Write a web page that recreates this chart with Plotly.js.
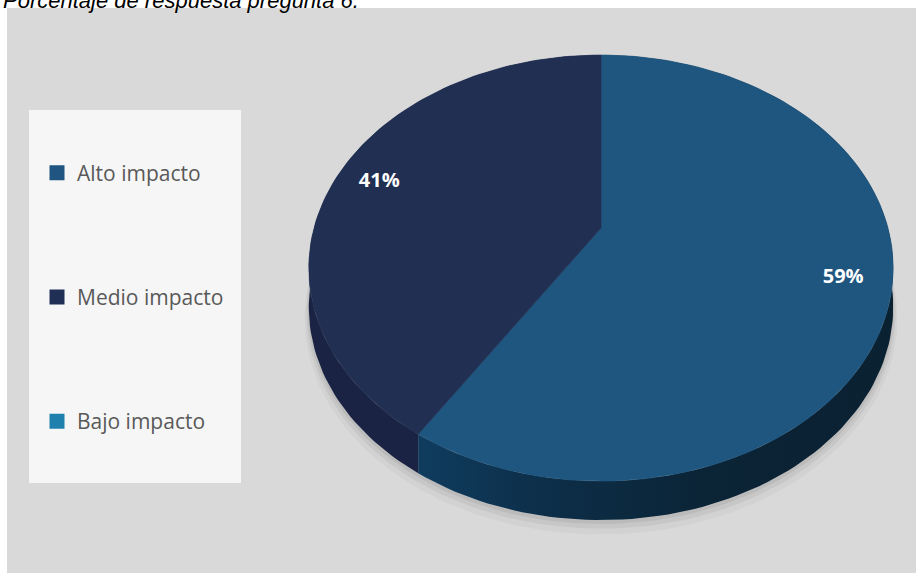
<!DOCTYPE html>
<html>
<head>
<meta charset="utf-8">
<script src="https://cdn.plot.ly/plotly-3.0.1.min.js"></script>
<style>html,body{margin:0;padding:0;background:#fff;}#chart{width:919px;height:575px;}</style>
</head>
<body>
<div id="chart"></div>
<script>
// ---- data ----
const categories = ['Alto impacto', 'Medio impacto', 'Bajo impacto'];
const values = [59, 41, 0];
const titleText = 'Porcentaje de respuesta pregunta 6.';

// ---- style ----
const topColors = ['#1f567f', '#212f53', '#1f80ae'];
const legendColors = ['#1f5580', '#1f2f55', '#1f80ae'];
const sideColors = ['#0d3150', '#1a2344', '#166089'];
const CX = 601, CY = 228, A = 287, B = 205.5, K = 0.188, DEPTH = 39;
const LABEL_R = 0.84;

function proj(phi, r, dy) {
  const u = r * Math.sin(phi), w = r * Math.cos(phi);
  const s = 1 + K * w;
  return [CX + A * u / s, CY - B * w / s + (dy || 0)];
}
function arc(p1, p2, r, dy) {
  const n = Math.max(2, Math.ceil(Math.abs(p2 - p1) / (Math.PI * 2) * 240));
  const xs = [], ys = [];
  for (let i = 0; i <= n; i++) {
    const p = p1 + (p2 - p1) * i / n;
    const q = proj(p, r, dy);
    xs.push(q[0]); ys.push(q[1]);
  }
  return [xs, ys];
}

const total = values.reduce((a, b) => a + b, 0);
const slices = [];
let acc = 0;
values.forEach((v, i) => {
  const p1 = acc / total * 2 * Math.PI;
  acc += v;
  const p2 = acc / total * 2 * Math.PI;
  slices.push({ i, v, p1, p2 });
});

const traces = [];
// shadow
[[DEPTH + 10, 1.014, 'rgba(0,0,0,0.03)'], [DEPTH + 6, 1.008, 'rgba(0,0,0,0.05)'], [DEPTH + 3, 1.003, 'rgba(0,0,0,0.06)']].forEach(s => {
  const a = arc(0, 2 * Math.PI, s[1], s[0]);
  traces.push({ type: 'scatter', mode: 'lines', x: a[0], y: a[1], fill: 'toself',
    fillcolor: s[2], line: { width: 0 }, hoverinfo: 'skip', showlegend: false });
});
// side walls
slices.forEach(s => {
  if (s.v <= 0) return;
  const t = arc(s.p1, s.p2, 1, 0);
  const b = arc(s.p2, s.p1, 1, DEPTH);
  const tr = { type: 'scatter', mode: 'lines', x: t[0].concat(b[0]), y: t[1].concat(b[1]),
    fill: 'toself', fillcolor: sideColors[s.i], line: { width: 0 }, hoverinfo: 'skip', showlegend: false };
  if (s.i === 0) {
    tr.fillgradient = { type: 'horizontal', colorscale: [[0, '#0f3c5e'], [0.25, '#0d2f4a'], [0.6, '#0b2436'], [1, '#0a2132']] };
  }
  traces.push(tr);
});
// top faces
slices.forEach(s => {
  if (s.v <= 0) return;
  const t = arc(s.p1, s.p2, 1, 0);
  traces.push({ type: 'scatter', mode: 'lines', x: [CX].concat(t[0], [CX]), y: [CY].concat(t[1], [CY]),
    fill: 'toself', fillcolor: topColors[s.i], line: { width: 0.6, color: topColors[s.i] },
    hoverinfo: 'skip', showlegend: false });
});
// labels
const lx = [], ly = [], lt = [];
slices.forEach(s => {
  if (s.v <= 0) return;
  const q = proj((s.p1 + s.p2) / 2, LABEL_R, 0);
  lx.push(q[0]); ly.push(q[1]); lt.push(Math.round(s.v / total * 100) + '%');
});
traces.push({ type: 'scatter', mode: 'text', x: lx, y: ly, text: lt, textposition: 'middle center',
  textfont: { family: 'Open Sans, Noto Sans, sans-serif', size: 20, color: '#ffffff', weight: 'bold' },
  hoverinfo: 'skip', showlegend: false });
// legend entries
categories.forEach((c, i) => {
  traces.push({ type: 'scatter', mode: 'markers', x: [null], y: [null], name: c,
    legendgroup: 'g' + i, showlegend: true,
    marker: { symbol: 'square', size: 15, color: legendColors[i] }, hoverinfo: 'skip' });
});

const layout = {
  width: 919, height: 575,
  margin: { l: 0, r: 0, t: 0, b: 0 },
  paper_bgcolor: '#ffffff', plot_bgcolor: 'rgba(0,0,0,0)',
  xaxis: { range: [0, 919], visible: false, fixedrange: true },
  yaxis: { range: [575, 0], visible: false, fixedrange: true },
  title: { text: titleText, x: 3 / 919, xanchor: 'left', xref: 'paper', y: 1, yref: 'container', yanchor: 'middle',
    font: { family: 'Liberation Sans, Arial, sans-serif', size: 22, style: 'italic', color: '#000000' } },
  shapes: [
    { type: 'rect', xref: 'x', yref: 'y', x0: 7, x1: 916, y0: 8, y1: 573, fillcolor: '#d9d9d9', line: { width: 0 }, layer: 'below' },
    { type: 'rect', xref: 'x', yref: 'y', x0: 29, x1: 241, y0: 110, y1: 483, fillcolor: '#f6f6f6', line: { width: 0 }, layer: 'below' }
  ],
  showlegend: true,
  legend: { x: 37 / 919, xanchor: 'left', y: 1 - 297 / 575, yanchor: 'middle',
    bgcolor: 'rgba(0,0,0,0)', traceorder: 'grouped', tracegroupgap: 94, itemclick: false, itemdoubleclick: false,
    font: { family: 'Open Sans, Noto Sans, sans-serif', size: 21, color: '#595959' } }
};

Plotly.newPlot('chart', traces, layout, { displayModeBar: false, staticPlot: true });
</script>
</body>
</html>
